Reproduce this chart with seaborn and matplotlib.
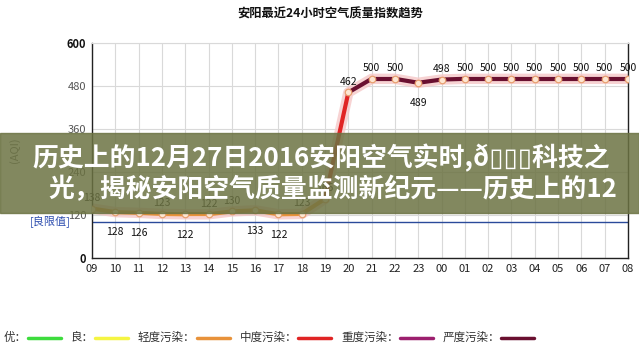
import numpy as np
import pandas as pd
import matplotlib.pyplot as plt
import seaborn as sns
from matplotlib.lines import Line2D
from matplotlib.patches import Rectangle

# hourly AQI, last 24 hours
hours = ['09', '10', '11', '12', '13', '14', '15', '16', '17', '18', '19', '20',
         '21', '22', '23', '00', '01', '02', '03', '04', '05', '06', '07', '08']
aqi = [138, 128, 126, 123, 122, 122, 130, 133, 122, 123, 165, 462,
       500, 500, 489, 498, 500, 500, 500, 500, 500, 500, 500, 500]
below = [1, 2, 4, 7, 8, 14]  # labels drawn under the point

level_names = ['优', '良', '轻度污染', '中度污染', '重度污染', '严度污染']
level_tops = [50, 100, 150, 200, 300, 1000]
level_colors = ['#3ddc3d', '#f5f542', '#e8923a', '#e02424', '#9c1f6e', '#6a1030']

yticks = [0, 120, 240, 360, 480, 600]

df = pd.DataFrame({'pos': np.arange(len(hours)), 'aqi': aqi})

def level_color(v):
    for top, c in zip(level_tops, level_colors):
        if v <= top:
            return c
    return level_colors[-1]

sns.set_style('white')
plt.rcParams['font.family'] = ['Noto Sans CJK SC', 'DejaVu Sans']

fig = plt.figure(figsize=(6.39, 3.54), dpi=100)
ax = fig.add_axes([92 / 639, 96 / 354, 536 / 639, 215 / 354])

# soft glow behind the line
sns.lineplot(data=df, x='pos', y='aqi', color='#f6c8c8', lw=7.5, alpha=0.8, ax=ax, zorder=2)
# each segment coloured by the level of its starting hour
for i in range(len(df) - 1):
    seg = df.iloc[i:i + 2]
    sns.lineplot(data=seg, x='pos', y='aqi', color=level_color(aqi[i]), lw=3, ax=ax, zorder=3)
sns.scatterplot(data=df, x='pos', y='aqi', s=22, color='#fde6d2', edgecolor='#e8a070',
                linewidth=0.9, ax=ax, zorder=4)

for i, v in enumerate(aqi):
    dy = -11 if i in below else 4
    va = 'top' if i in below else 'bottom'
    ax.annotate(str(v), (i, v), xytext=(0, dy), textcoords='offset points',
                ha='center', va=va, fontsize=7.5, color='#111', zorder=5,
                annotation_clip=False)

# limit line for 良
ax.axhline(100, color='#2a4a9a', lw=1, zorder=1)
ax.text(-0.9, 100, '[良限值]', color='#3050b0', fontsize=8, ha='right', va='center',
        transform=ax.transData)

ax.set_xlim(0, len(hours) - 1)
ax.set_ylim(0, 600)
ax.set_xticks(df['pos'])
ax.set_xticklabels(hours, fontsize=8, color='#222')
ax.set_yticks(yticks)
ax.set_yticklabels([str(t) for t in yticks], fontsize=8, color='#555')
for lab in ax.get_yticklabels():
    if lab.get_text() in ('0', '600'):
        lab.set_fontweight('bold')
        lab.set_color('#111')
ax.tick_params(length=0, pad=4)
ax.grid(True, color='#d9d9d9', lw=0.8)
ax.set_axisbelow(True)
ax.set_xlabel('')
ax.set_ylabel('(AQI)', fontsize=8, color='#666', labelpad=34)
for s in ['left', 'bottom', 'right']:
    ax.spines[s].set_color('#222')
    ax.spines[s].set_linewidth(1)
ax.spines['top'].set_color('#d9d9d9')

fig.text(330 / 639, 1 - 14 / 354, '安阳最近24小时空气质量指数趋势', ha='center', va='center',
         fontsize=8.8, fontweight='bold', color='#111')

# legend along the bottom
lx = 4
for name, c in zip(level_names, level_colors):
    t = fig.text(lx / 639, 1 - 337 / 354, name + '：', fontsize=8.3, color='#333', va='center')
    fig.canvas.draw()
    w = t.get_window_extent().width
    x0 = lx + w + 1
    fig.add_artist(Line2D([x0 / 639, (x0 + 33) / 639], [1 - 338 / 354] * 2, color=c, lw=2.5,
                          transform=fig.transFigure))
    lx = x0 + 33 + 10

# banner overlay
fig.add_artist(Rectangle((0, 1 - 213 / 354), 1, 80 / 354, transform=fig.transFigure,
                         color='#6c7343', alpha=0.85, zorder=10))
fig.text(321 / 639, 1 - 158 / 354, '历史上的12月27日2016安阳空气实时,ð\u25af\u25af\u25af科技之',
         ha='center', va='center', fontsize=18.6, fontweight='bold', color='white', zorder=11)
fig.text(333 / 639, 1 - 190 / 354, '光，揭秘安阳空气质量监测新纪元——历史上的12',
         ha='center', va='center', fontsize=18.6, fontweight='bold', color='white', zorder=11)

fig.savefig('out.png', dpi=100, facecolor='white')
